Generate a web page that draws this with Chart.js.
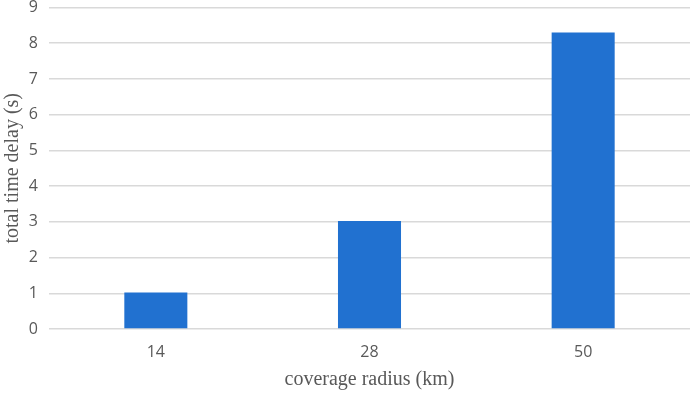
<!DOCTYPE html>
<html>
<head>
<meta charset="utf-8">
<script src="https://cdn.jsdelivr.net/npm/chart.js@4"></script>
<style>
body { margin: 0; background: #fff; }
#wrap { width: 692px; height: 396px; }
</style>
</head>
<body>
<div id="wrap"><canvas id="chart"></canvas></div>
<script>
var radius = ["14", "28", "50"];
var delay = [1.02, 3.02, 8.3];

var ctx = document.getElementById("chart");

var data = {
	labels: radius,
	datasets: [
		{
			label: "total time delay",
			data: delay,
			backgroundColor: "#2171d0",
			borderWidth: 0,
			barPercentage: 0.295,
			categoryPercentage: 1
		}
	]
};

var options = {
	responsive: true,
	maintainAspectRatio: false,
	animation: false,
	layout: { padding: { top: 0, right: 2, left: 1, bottom: 0 } },
	plugins: {
		legend: { display: false },
		tooltip: { enabled: false }
	},
	scales: {
		x: {
			grid: { display: false, drawTicks: false },
			border: { display: false },
			ticks: { color: "#595959", font: { family: "Open Sans", size: 16 }, padding: 14 },
			title: {
				display: true,
				text: "coverage radius (km)",
				color: "#595959",
				font: { family: "Liberation Serif", size: 20 },
				padding: { top: 4, bottom: 4 }
			},
			// fixed height so the plot bottom sits where it should
			afterFit: function (scale) {
				scale.height = 67;
			}
		},
		y: {
			min: 0,
			max: 9,
			ticks: { stepSize: 1, color: "#595959", font: { family: "Open Sans", size: 16 }, padding: 11 },
			grid: { color: "#d9d9d9", lineWidth: 1.5, drawTicks: false },
			border: { display: false },
			title: {
				display: true,
				text: "total time delay (s)",
				color: "#595959",
				font: { family: "Liberation Serif", size: 20 },
				padding: { top: 0, bottom: 4 }
			},
			afterFit: function (scale) {
				scale.paddingTop = 7.5;
				scale.width = 48;
			}
		}
	}
};

var chart = new Chart(ctx, {
	type: "bar",
	data: data,
	options: options
});
</script>
</body>
</html>
